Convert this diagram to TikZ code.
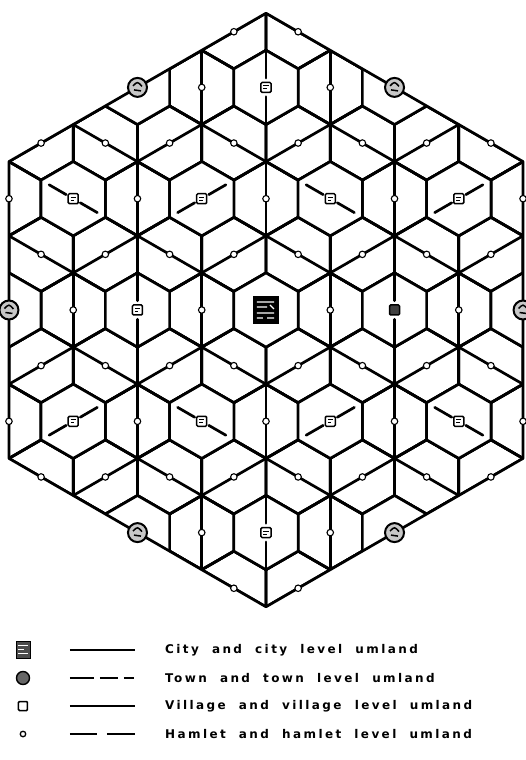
\documentclass[tikz,border=0pt]{standalone}
\usepackage{fontspec}
\newfontfamily\legfont[LetterSpace=20,WordSpace=2.0]{DejaVu Sans}
\begin{document}
\begin{tikzpicture}[x=64.259pt,y=37.1pt,
  ln/.style={line width=2.7pt,line cap=round,line join=round},
  hamlet/.style={circle,draw,fill=white,line width=1.1pt,inner sep=0pt,minimum size=6.5pt},
  village/.style={rectangle,draw,fill=white,line width=1.5pt,inner sep=0pt,minimum size=10pt,rounded corners=1.2pt},
  darkvillage/.style={village,fill=black!75},
  town/.style={circle,draw,fill=black!22,line width=2pt,inner sep=0pt,minimum size=19pt},
  cityst/.style={rectangle,fill=black,inner sep=0pt,minimum width=25pt,minimum height=28pt},
  legtext/.style={anchor=west,font=\legfont\bfseries\fontsize{12}{14}\selectfont,inner sep=0pt},
  legline/.style={line width=2.2pt}
]
\useasboundingbox (-266pt,310pt) rectangle (259pt,-450pt);
\fill[white] (-266pt,310pt) rectangle (259pt,-450pt);
\begin{scope}
\clip (0,8) -- (4,4) -- (4,-4) -- (0,-8) -- (-4,-4) -- (-4,4) -- cycle;
% honeycomb
\foreach \j in {-6,...,6}{\foreach \i in {-8,...,8}{
  \pgfmathsetmacro\cx{\i+\j/2}
  \pgfmathsetmacro\cy{1.5*\j}
  \draw[ln] ({\cx},{\cy+1}) -- ++(0.5,-0.5) -- ++(0,-1) -- ++(-0.5,-0.5) -- ++(-0.5,0.5) -- ++(0,1) -- cycle;
}}
% lattice lines through hamlets
\foreach \m in {-4,...,4} \draw[ln] (\m,-9) -- (\m,9);
\foreach \k in {-8,...,8}{
  \draw[ln] (-5,{-5+2*\k}) -- (5,{5+2*\k});
  \draw[ln] (-5,{5+2*\k}) -- (5,{-5+2*\k});
}
% clear the hexagons of city, villages and towns
\foreach \a/\b in {0/0,2/0,-2/0,4/0,-4/0,1/3,-1/3,1/-3,-1/-3,3/3,-3/3,3/-3,-3/-3,0/6,0/-6,2/6,-2/6,2/-6,-2/-6}{
  \fill[white] (\a,{\b+1}) -- ++(0.5,-0.5) -- ++(0,-1) -- ++(-0.5,-0.5) -- ++(-0.5,0.5) -- ++(0,1) -- cycle;
  \draw[ln] (\a,{\b+1}) -- ++(0.5,-0.5) -- ++(0,-1) -- ++(-0.5,-0.5) -- ++(-0.5,0.5) -- ++(0,1) -- cycle;
}
% village level lines
\foreach \a/\b/\u/\v in {-3/3/0.5/-0.5,-1/3/0.5/0.5,1/3/0.5/-0.5,3/3/0.5/0.5,-3/-3/0.5/0.5,-1/-3/0.5/-0.5,1/-3/0.5/0.5,3/-3/0.5/-0.5}{
  \draw[ln] ({\a+0.22*\u},{\b+0.22*\v}) -- ({\a+0.75*\u},{\b+0.75*\v});
  \draw[ln] ({\a-0.22*\u},{\b-0.22*\v}) -- ({\a-0.75*\u},{\b-0.75*\v});
}
\foreach \a/\b in {0/6,0/-6,2/0,-2/0}{
  \draw[ln] (\a,{\b+0.25}) -- (\a,{\b+1});
  \draw[ln] (\a,{\b-0.25}) -- (\a,{\b-1});
}
\end{scope}
% city level boundary
\draw[ln] (0,8) -- (4,4) -- (4,-4) -- (0,-8) -- (-4,-4) -- (-4,4) -- cycle;
% hamlets
\foreach \j in {-6,...,6}{\foreach \i in {-8,...,8}{
  \pgfmathsetmacro\cx{\i+\j/2}
  \pgfmathsetmacro\cy{1.5*\j}
  \pgfmathtruncatemacro\ins{and(abs(\cx)<4.01, abs(\cx)+abs(\cy)<8.01)}
  \pgfmathtruncatemacro\isv{and(mod(abs(\i),2)==0, mod(abs(\j),2)==0)}
  \ifnum\ins=1\relax\ifnum\isv=0\relax
     \node[hamlet] (h\i\j) at (\cx,\cy) {};
  \fi\fi
}}
% villages
\foreach \a/\b/\n in {-2/0/v1,1/3/v2,-1/3/v3,1/-3/v4,-1/-3/v5,3/3/v6,-3/3/v7,3/-3/v8,-3/-3/v9,0/6/v10,0/-6/v11}{
  \node[village] (\n) at (\a,\b) {};
  \draw[line width=0.8pt] ([xshift=-2.5pt,yshift=1.5pt]\n.center) -- ++(5pt,0) ([xshift=-2.5pt,yshift=-1.5pt]\n.center) -- ++(3.5pt,0);
}
\node[darkvillage] (v0) at (2,0) {};
% towns
\foreach \a/\b/\n in {4/0/t1,-4/0/t2,2/6/t3,-2/6/t4,2/-6/t5,-2/-6/t6}{
  \node[town] (\n) at (\a,\b) {};
  \draw[line width=1.5pt] ([xshift=-4.5pt,yshift=1.5pt]\n.center) .. controls ([xshift=0pt,yshift=6pt]\n.center) .. ([xshift=4.5pt,yshift=1pt]\n.center);
  \draw[line width=1.5pt] ([xshift=-3.5pt,yshift=-2.5pt]\n.center) -- ([xshift=3.5pt,yshift=-3.5pt]\n.center);
}
% city
\node[cityst] (city) at (0,0) {};
\draw[white,line width=1.1pt] ([xshift=-9pt,yshift=8pt]city.center) -- ++(17pt,0)
  ([xshift=-9pt,yshift=3pt]city.center) -- ++(10pt,0)
  ([xshift=4pt,yshift=5pt]city.center) -- ++(4pt,-4pt)
  ([xshift=-9pt,yshift=-3pt]city.center) -- ++(17pt,0)
  ([xshift=-9pt,yshift=-8pt]city.center) -- ++(6pt,0)
  ([xshift=1pt,yshift=-8pt]city.center) -- ++(7pt,0);
% legend
\node[rectangle,fill=black!70,draw,line width=0.8pt,minimum width=14pt,minimum height=17pt,inner sep=0pt] (lcity) at (-243pt,-340pt) {};
\draw[white,line width=0.8pt] ([xshift=-5pt,yshift=5pt]lcity.center) -- ++(10pt,0) ([xshift=-5pt,yshift=1pt]lcity.center) -- ++(6pt,0) ([xshift=-5pt,yshift=-3pt]lcity.center) -- ++(10pt,0);
\node[circle,draw,fill=black!60,line width=1.4pt,minimum size=13pt,inner sep=0pt] (ltown) at (-243pt,-368pt) {};
\node[rectangle,draw,fill=white,line width=1.5pt,minimum size=9pt,inner sep=0pt,rounded corners=1pt] (lvil) at (-243pt,-396pt) {};
\node[circle,draw,fill=white,line width=1.3pt,minimum size=5.5pt,inner sep=0pt] (lham) at (-243pt,-424pt) {};
\coordinate (a1) at (-196pt,-340pt); \coordinate (b1) at (-131pt,-340pt);
\coordinate (a2) at (-196pt,-368pt); \coordinate (b2) at (-131pt,-368pt);
\coordinate (a3) at (-196pt,-396pt); \coordinate (b3) at (-131pt,-396pt);
\coordinate (a4) at (-196pt,-424pt); \coordinate (b4) at (-131pt,-424pt);
\draw[legline] (a1) -- (b1);
\draw[legline,dash pattern=on 24pt off 6pt on 18pt off 6pt on 10pt] (a2) -- (b2);
\draw[legline] (a3) -- (b3);
\draw[legline,dash pattern=on 27pt off 10pt on 28pt] (a4) -- (b4);
\node[legtext] (t1l) at (-101pt,-340pt) {City and city level umland};
\node[legtext] (t2l) at (-101pt,-368pt) {Town and town level umland};
\node[legtext] (t3l) at (-101pt,-396pt) {Village and village level umland};
\node[legtext] (t4l) at (-101pt,-424pt) {Hamlet and hamlet level umland};
\end{tikzpicture}
\end{document}
